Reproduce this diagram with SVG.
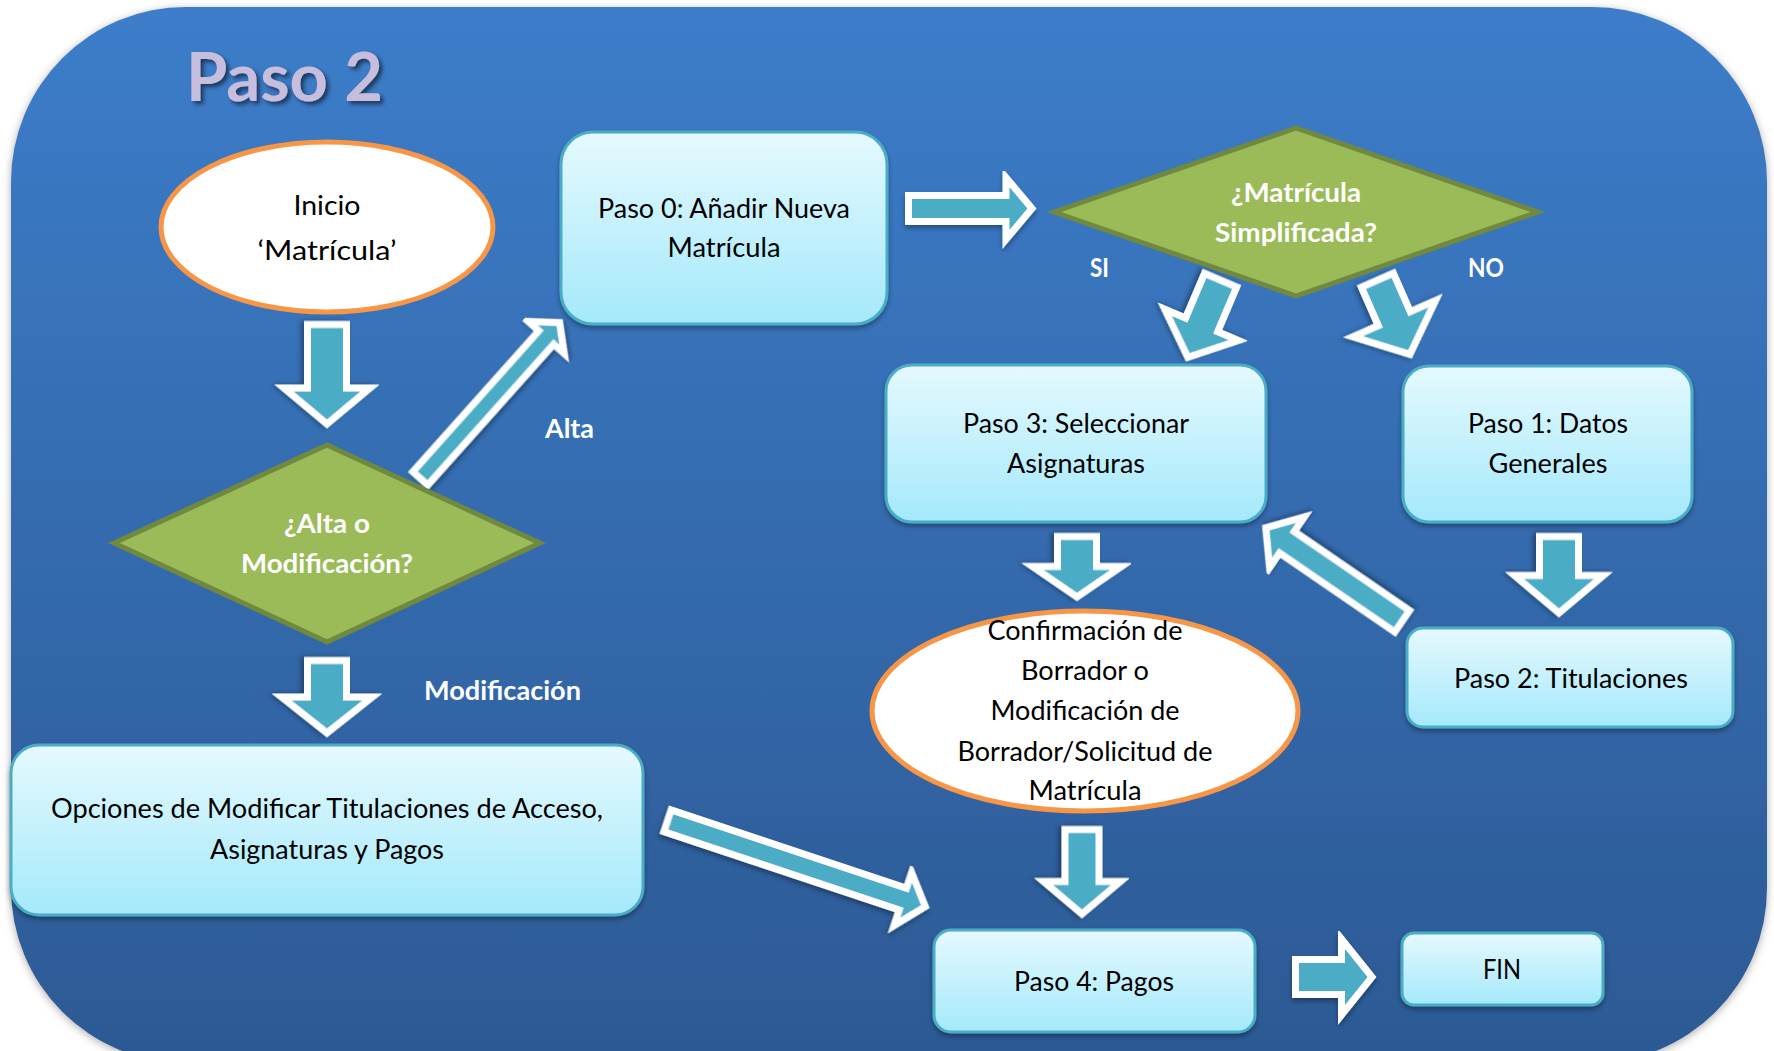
<svg xmlns="http://www.w3.org/2000/svg" width="1774" height="1051" viewBox="0 0 1774 1051">
<defs>
<linearGradient id="bg" x1="0" y1="0" x2="0" y2="1">
<stop offset="0" stop-color="#3C7DCA"/>
<stop offset="1" stop-color="#2C5993"/>
</linearGradient>
<linearGradient id="box" x1="0" y1="0" x2="0" y2="1">
<stop offset="0" stop-color="#E5F9FE"/>
<stop offset="1" stop-color="#A4E9FB"/>
</linearGradient>
<filter id="bgsh" x="-5%" y="-5%" width="110%" height="110%">
<feDropShadow dx="0" dy="2" stdDeviation="4" flood-color="#777" flood-opacity="0.6"/>
</filter>
<filter id="sh" x="-10%" y="-10%" width="120%" height="130%">
<feDropShadow dx="0" dy="3" stdDeviation="2.5" flood-color="#000" flood-opacity="0.35"/>
</filter>
<filter id="tsh" x="-10%" y="-10%" width="130%" height="140%">
<feDropShadow dx="3" dy="3" stdDeviation="2" flood-color="#000" flood-opacity="0.55"/>
</filter>
</defs>
<style>
.box{fill:url(#box);stroke:#4BACC6;stroke-width:3;filter:url(#sh)}
.ell{fill:#fff;stroke:#F79646;stroke-width:5}
.dia{fill:#9BBB59;stroke:#71893F;stroke-width:5;stroke-linejoin:miter}
.arr{fill:#4BACC6;stroke:#fff;stroke-width:7;stroke-linejoin:miter;stroke-miterlimit:10;filter:url(#sh)}
.t{font-family:Lato,"Open Sans","Liberation Sans",sans-serif;font-size:27px;fill:#000;text-anchor:middle}
.w{font-family:Lato,"Open Sans","Liberation Sans",sans-serif;font-size:26px;font-weight:bold;fill:#fff;text-anchor:middle}
.lbl{font-family:Lato,"Open Sans","Liberation Sans",sans-serif;font-size:26px;font-weight:bold;fill:#fff;text-anchor:start}
</style>
<rect x="11" y="7" width="1756" height="1056" rx="175" ry="175" fill="url(#bg)" filter="url(#bgsh)"/>
<text x="186" y="101" font-family="Lato,'Open Sans','Liberation Sans',sans-serif" font-size="66" font-weight="bold" fill="#C7BDDD" textLength="197" lengthAdjust="spacingAndGlyphs" filter="url(#tsh)">Paso 2</text>

<g id="connectors">
<path class="arr" transform="translate(327,324.5) rotate(90)" d="M0,-19.5 H63.5 V-43 L99.5,0 L63.5,43 V19.5 H0 Z"/>
<path class="arr" transform="translate(327,660.5) rotate(90)" d="M0,-19.5 H36.5 V-45.5 L72.5,0 L36.5,45.5 V19.5 H0 Z"/>
<path class="arr" transform="translate(908.5,208.5)" d="M0,-13 H97.5 V-31 L123.5,0 L97.5,31 V13 H0 Z"/>
<path class="arr" transform="translate(1559,536.5) rotate(90)" d="M0,-19.5 H39 V-44.5 L76.5,0 L39,44.5 V19.5 H0 Z"/>
<path class="arr" transform="translate(1077,536.5) rotate(90)" d="M0,-19.5 H30 V-44.5 L60.5,0 L30,44.5 V19.5 H0 Z"/>
<path class="arr" transform="translate(1082,829.5) rotate(90)" d="M0,-17 H52 V-38.5 L84.5,0 L52,38.5 V17 H0 Z"/>
<path class="arr" transform="translate(1295.5,977)" d="M0,-17.5 H46 V-38 L76.5,0 L46,38 V17.5 H0 Z"/>
<path class="arr" transform="translate(1220.6,280.2) rotate(113)" d="M0,-17.5 H48.5 V-40 L83.8,0 L48.5,40 V17.5 H0 Z"/>
<path class="arr" transform="translate(1377.4,280.2) rotate(66.3)" d="M0,-17.5 H42 V-45 L81,0 L42,45 V17.5 H0 Z"/>
<path class="arr" transform="translate(420.3,478.4) rotate(-48.2)" d="M0,-10 H189 V-24 L209,0 L189,24 V10 H0 Z"/>
<path class="arr" transform="translate(1402.1,621.3) rotate(-145.55)" d="M0,-13 H139.7 V-30.7 L165.3,0 L139.7,30.7 V13 H0 Z"/>
<path class="arr" transform="translate(667.5,820.8) rotate(18.4)" d="M0,-11.5 H248 V-28 L271.7,0 L248,28 V11.5 H0 Z"/>
<text class="lbl" x="545" y="438" textLength="49" lengthAdjust="spacingAndGlyphs">Alta</text>
<text class="lbl" x="424" y="700" textLength="157" lengthAdjust="spacingAndGlyphs">Modificación</text>
<text class="lbl" x="1090" y="277" textLength="19" lengthAdjust="spacingAndGlyphs">SI</text>
<text class="lbl" x="1468" y="277" textLength="36" lengthAdjust="spacingAndGlyphs">NO</text>
</g>

<g id="inicio">
<ellipse class="ell" cx="327" cy="227" rx="166" ry="85"/>
<text class="t" x="327" y="215" textLength="67" lengthAdjust="spacingAndGlyphs">Inicio</text>
<text class="t" x="327" y="260" textLength="139" lengthAdjust="spacingAndGlyphs">‘Matrícula’</text>
</g>

<g id="paso0">
<rect class="box" x="561" y="132" width="326" height="192" rx="32"/>
<text class="t" x="724" y="218" textLength="252" lengthAdjust="spacingAndGlyphs">Paso 0: Añadir Nueva</text>
<text class="t" x="724" y="257" textLength="113" lengthAdjust="spacingAndGlyphs">Matrícula</text>
</g>

<g id="dec-simplificada">
<polygon class="dia" points="1054,212 1296,128 1538,212 1296,296"/>
<text class="w" x="1296" y="202" textLength="130" lengthAdjust="spacingAndGlyphs">¿Matrícula</text>
<text class="w" x="1296" y="242" textLength="162" lengthAdjust="spacingAndGlyphs">Simplificada?</text>
</g>

<g id="dec-alta">
<polygon class="dia" points="114,543 327,445 540,543 327,642"/>
<text class="w" x="327" y="533" textLength="86" lengthAdjust="spacingAndGlyphs">¿Alta o</text>
<text class="w" x="327" y="573" textLength="172" lengthAdjust="spacingAndGlyphs">Modificación?</text>
</g>

<g id="paso3">
<rect class="box" x="886" y="365" width="380" height="157" rx="26"/>
<text class="t" x="1076" y="433" textLength="226" lengthAdjust="spacingAndGlyphs">Paso 3: Seleccionar</text>
<text class="t" x="1076" y="473" textLength="138" lengthAdjust="spacingAndGlyphs">Asignaturas</text>
</g>

<g id="paso1">
<rect class="box" x="1403" y="366" width="289" height="156" rx="26"/>
<text class="t" x="1548" y="433" textLength="160" lengthAdjust="spacingAndGlyphs">Paso 1: Datos</text>
<text class="t" x="1548" y="473" textLength="119" lengthAdjust="spacingAndGlyphs">Generales</text>
</g>

<g id="paso2">
<rect class="box" x="1407" y="628" width="326" height="99" rx="16"/>
<text class="t" x="1571" y="688" textLength="234" lengthAdjust="spacingAndGlyphs">Paso 2: Titulaciones</text>
</g>

<g id="opciones">
<rect class="box" x="11" y="745" width="632" height="170" rx="28"/>
<text class="t" x="327" y="818" textLength="552" lengthAdjust="spacingAndGlyphs">Opciones de Modificar Titulaciones de Acceso,</text>
<text class="t" x="327" y="859" textLength="234" lengthAdjust="spacingAndGlyphs">Asignaturas y Pagos</text>
</g>

<g id="confirmacion">
<ellipse class="ell" cx="1085" cy="711" rx="213" ry="100"/>
<text class="t" x="1085" y="640" textLength="195" lengthAdjust="spacingAndGlyphs">Confirmación de</text>
<text class="t" x="1085" y="680" textLength="128" lengthAdjust="spacingAndGlyphs">Borrador o</text>
<text class="t" x="1085" y="720" textLength="189" lengthAdjust="spacingAndGlyphs">Modificación de</text>
<text class="t" x="1085" y="761" textLength="255" lengthAdjust="spacingAndGlyphs">Borrador/Solicitud de</text>
<text class="t" x="1085" y="800" textLength="113" lengthAdjust="spacingAndGlyphs">Matrícula</text>
</g>

<g id="paso4">
<rect class="box" x="934" y="930" width="321" height="102" rx="17"/>
<text class="t" x="1094" y="991" textLength="160" lengthAdjust="spacingAndGlyphs">Paso 4: Pagos</text>
</g>

<g id="fin">
<rect class="box" x="1402" y="933" width="201" height="72" rx="12"/>
<text class="t" x="1502" y="979" textLength="38" lengthAdjust="spacingAndGlyphs">FIN</text>
</g>
</svg>
